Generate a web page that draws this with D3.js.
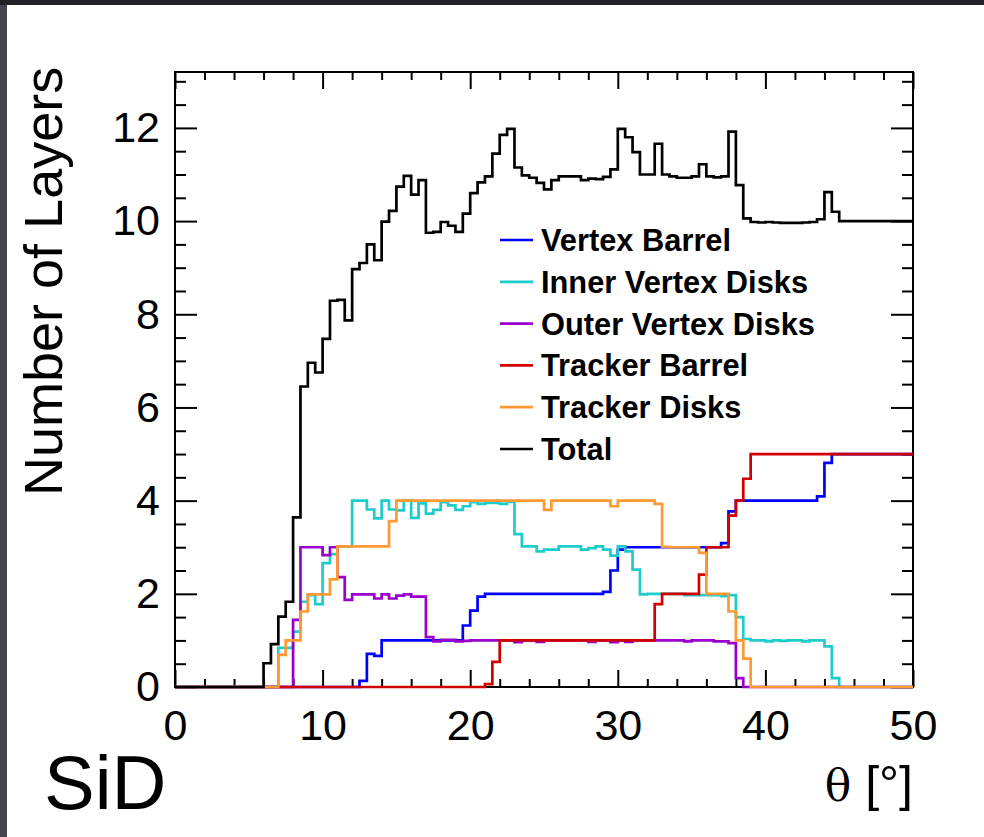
<!DOCTYPE html>
<html>
<head>
<meta charset="utf-8">
<title>SiD layers vs theta</title>
<script src="https://d3js.org/d3.v7.min.js"></script>
<style>
  html, body { margin: 0; padding: 0; background: #222226; }
  svg { display: block; }
  text { font-family: "Liberation Sans", Arial, Helvetica, sans-serif; fill: #000; }
</style>
</head>
<body>
<div id="chart"></div>
<script>
// bins are 0.5 degree wide, theta from 0 to 50
var thetaMin = 0, thetaMax = 50, binWidth = 0.5;

var seriesNames = ["Vertex Barrel", "Inner Vertex Disks", "Outer Vertex Disks",
                   "Tracker Barrel", "Tracker Disks", "Total"];
var seriesColors = ["#0000ff", "#1fcccc", "#9a00cc", "#d00000", "#ff9933", "#000000"];

var xTickLabels = [0, 10, 20, 30, 40, 50];
var yTickLabels = [0, 2, 4, 6, 8, 10, 12];

// values per bin (100 bins)
var vertexBarrel = [
  0,0,0,0,0,0,0,0,0,0, 0,0,0,0,0,0,0,0,0,0,
  0,0,0,0,0,0.13,0.71,0.67,1,1, 1,1,1,1,1,1,1,1,1,1.32,
  1.64,1.94,2,2,2,2,2,2,2,2, 2,2,2,2,2,2,2,2,2.04,2.5,
  2.95,3,3,3,3,3,3,3,3,3, 3,3,3,3,3.09,3.77,4,4,4,4,
  4,4,4,4,4,4,4,4.09,4.81,5, 5,5,5,5,5,5,5,5,5,5
];
var innerVertexDisks = [
  0,0,0,0,0,0,0,0,0,0, 0,0,0,0,0.84,0.84,1.19,1.83,1.97,1.78,
  2.66,2.85,3.02,3.02,4,4,3.81,3.62,4,3.81, 3.79,4,3.63,3.94,3.72,3.8,3.97,3.9,3.8,3.88,
  3.97,3.93,3.95,3.95,3.93,3.98,3.28,3.02,3.02,2.91, 2.95,2.95,3.02,3.02,3.02,2.95,2.98,3.02,2.95,2.82,
  3.02,2.91,2.52,1.99,2,2,2,2,2,1.97, 1.97,1.97,1.97,1.97,1.95,1.97,1.5,1.03,1,1,
  0.98,1,0.99,1,1,0.98,1,1,0.87,0.19, 0,0,0,0,0,0,0,0,0,0
];
var outerVertexDisks = [
  0,0,0,0,0,0,0,0,0,0, 0,0,0,0,0,0,1.44,3,3,3,
  2.83,3,2.36,1.87,1.99,1.99,1.99,1.9,1.99,1.9, 1.96,1.99,1.94,1.94,1.07,0.98,1.01,1.01,0.98,0.99,
  1,1,1,1,1,1,0.96,1,1,0.97, 1,1,1,1,1,1,0.97,1,1,0.96,
  1,0.97,1,1,1,1,1,1,1,0.98, 1,1,1,0.98,0.98,0.94,0.19,0,0,0,
  0,0,0,0,0,0,0,0,0,0, 0,0,0,0,0,0,0,0,0,0
];
var trackerBarrel = [
  0,0,0,0,0,0,0,0,0,0, 0,0,0,0,0,0,0,0,0,0,
  0,0,0,0,0,0,0,0,0,0, 0,0,0,0,0,0,0,0,0,0,
  0,0,0.06,0.54,1,1,1,1,1,1, 1,1,1,1,1,1,1,1,1,1,
  1,1,1,1,1,1.78,2,2,2,2, 2,2.41,3,3,3,3.68,4,4.47,5,5,
  5,5,5,5,5,5,5,5,5,5, 5,5,5,5,5,5,5,5,5,5
];
var trackerDisks = [
  0,0,0,0,0,0,0,0,0,0, 0,0,0,0,0.69,1,1,1.62,1.99,1.99,
  1.99,2.31,3.02,3.02,3.02,3.02,3.02,3.02,3.02,3.56, 4,4,4,4,4,4,4,4,4,4,
  4,4,4,4,4,4,4,4,4,4, 3.8,4,4,4,4,4,4,4,4,3.88,
  4,4,4,4,4,3.93,3.01,3,3,3, 3,2.88,2,2,2,1.62,1,0.61,0,0,
  0,0,0,0,0,0,0,0,0,0, 0,0,0,0,0,0,0,0,0,0
];
var total = [
  0,0,0,0,0,0,0,0,0,0, 0,0,0.51,0.92,1.51,1.83,3.64,6.45,6.96,6.75,
  7.47,8.29,8.31,7.87,8.97,9.1,9.5,9.16,9.99,10.22, 10.74,10.97,10.57,10.88,9.75,9.77,9.98,9.9,9.77,10.16,
  10.6,10.83,10.96,11.45,11.85,11.98,11.15,10.98,10.93,10.82, 10.68,10.88,10.96,10.96,10.96,10.88,10.91,10.9,10.95,11.11,
  11.98,11.8,11.48,11,11,11.66,11,10.96,10.93,10.93, 10.96,11.22,10.96,10.94,10.96,11.92,10.77,10.06,9.98,9.97,
  9.98,9.97,9.96,9.96,9.96,9.97,9.98,10.04,10.62,10.2, 10,10,10,10,10,10,10,10,10,10
];

var seriesValues = [vertexBarrel, innerVertexDisks, outerVertexDisks,
                    trackerBarrel, trackerDisks, total];

var width = 984, height = 837;
var svg = d3.select("#chart").append("svg")
    .attr("width", width)
    .attr("height", height);

// dark window border, white canvas
svg.append("rect").attr("width", width).attr("height", height).attr("fill", "#222226");
svg.append("rect").attr("x", 0).attr("y", 5).attr("width", 7).attr("height", height - 5).attr("fill", "#44444e");
svg.append("rect").attr("x", 7).attr("y", 5).attr("width", width - 7).attr("height", height - 5).attr("fill", "#fff");

// plot frame (window.top is reserved, so use other names)
var frameL = 175, frameR = 913, frameT = 72, frameB = 687;

var x = d3.scaleLinear().domain([thetaMin, thetaMax]).range([frameL, frameR]);
var y = d3.scaleLinear().domain([0, 13.2]).range([frameB, frameT]);

svg.append("rect")
    .attr("x", frameL).attr("y", frameT)
    .attr("width", frameR - frameL).attr("height", frameB - frameT)
    .attr("fill", "none").attr("stroke", "#000").attr("stroke-width", 2);

function ticks(axis, transform) {
  var g = svg.append("g").attr("transform", transform).call(axis);
  g.select(".domain").remove();
  g.selectAll("line").attr("stroke", "#000").attr("stroke-width", 2);
  return g;
}

var xMinor = d3.range(0, 51, 2).filter(function(d) { return d % 10 !== 0; });
var yMinor = d3.range(0, 13.01, 0.5).filter(function(d) { return d % 2 !== 0; });

// x axis: ticks point into the frame
var xb = ticks(d3.axisBottom(x).tickValues(xTickLabels).tickSize(-17).tickPadding(22), "translate(0," + frameB + ")");
ticks(d3.axisBottom(x).tickValues(xMinor).tickSize(-8).tickFormat(""), "translate(0," + frameB + ")");
ticks(d3.axisTop(x).tickValues(xTickLabels).tickSize(-17).tickFormat(""), "translate(0," + frameT + ")");
ticks(d3.axisTop(x).tickValues(xMinor).tickSize(-8).tickFormat(""), "translate(0," + frameT + ")");
xb.selectAll("text").attr("font-size", 43).attr("font-family", "Liberation Sans, Arial, sans-serif").attr("fill", "#000");

// y axis
var yl = ticks(d3.axisLeft(y).tickValues(yTickLabels).tickSize(-22).tickPadding(15), "translate(" + frameL + ",0)");
ticks(d3.axisLeft(y).tickValues(yMinor).tickSize(-11).tickFormat(""), "translate(" + frameL + ",0)");
ticks(d3.axisRight(y).tickValues(yTickLabels).tickSize(-22).tickFormat(""), "translate(" + frameR + ",0)");
ticks(d3.axisRight(y).tickValues(yMinor).tickSize(-11).tickFormat(""), "translate(" + frameR + ",0)");
yl.selectAll("text").attr("font-size", 43).attr("font-family", "Liberation Sans, Arial, sans-serif").attr("fill", "#000");

// histograms as step lines
var line = d3.line()
    .x(function(d) { return x(d[0]); })
    .y(function(d) { return y(d[1]); })
    .curve(d3.curveStepAfter);

seriesValues.forEach(function(vals, k) {
  var pts = vals.map(function(v, i) { return [thetaMin + i * binWidth, v]; });
  pts.push([thetaMax, vals[vals.length - 1]]);
  svg.append("path")
      .datum(pts)
      .attr("d", line)
      .attr("fill", "none")
      .attr("stroke", seriesColors[k])
      .attr("stroke-width", 2.7)
      .attr("stroke-linejoin", "miter");
});

// legend
var legend = svg.append("g").attr("transform", "translate(500,240)");
seriesNames.forEach(function(name, i) {
  var row = legend.append("g").attr("transform", "translate(0," + (i * 41.8) + ")");
  row.append("line")
      .attr("x1", 0).attr("x2", 33).attr("y1", 0).attr("y2", 0)
      .attr("stroke", seriesColors[i]).attr("stroke-width", 2.7);
  row.append("text")
      .attr("x", 41).attr("y", 11)
      .attr("font-size", 30.8).attr("font-weight", "bold")
      .text(name);
});

// axis titles
svg.append("text")
    .attr("transform", "translate(62,496) rotate(-90)")
    .attr("font-size", 54)
    .text("Number of Layers");

var xt = svg.append("text")
    .attr("x", frameR).attr("y", 801)
    .attr("text-anchor", "end")
    .attr("font-size", 50);
xt.append("tspan").attr("font-family", "DejaVu Serif, Liberation Serif, serif").attr("font-size", 44).text("θ");
xt.append("tspan").text(" [°]");

svg.append("text")
    .attr("x", 44).attr("y", 809)
    .attr("font-size", 76)
    .text("SiD");
</script>
</body>
</html>
